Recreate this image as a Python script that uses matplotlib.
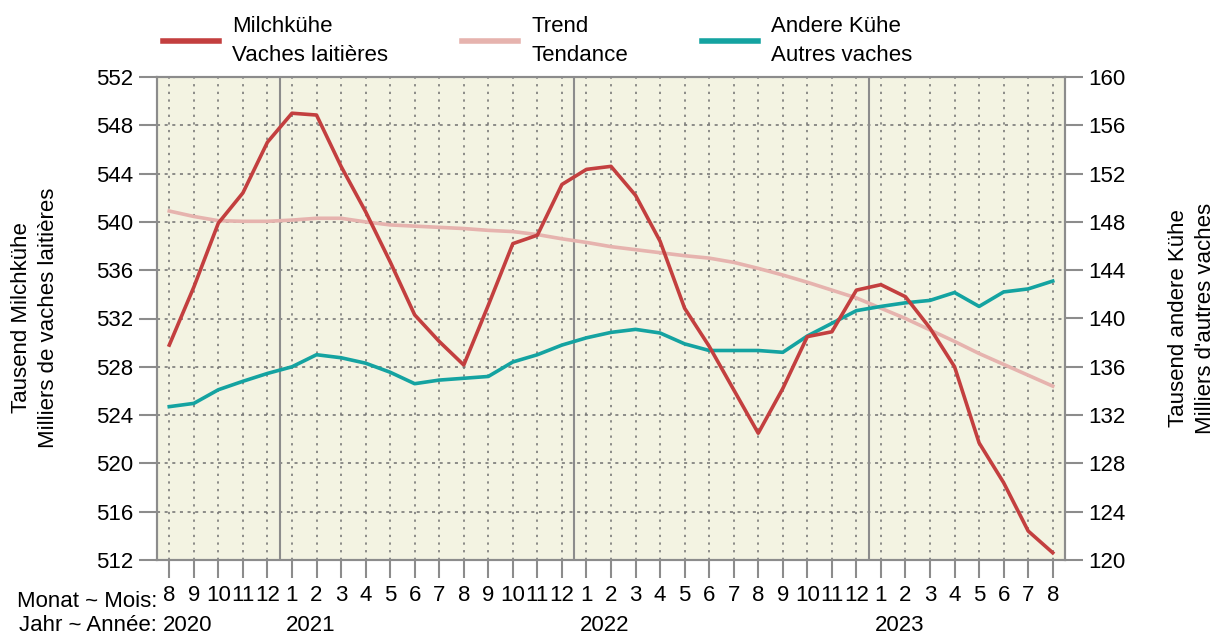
import matplotlib
matplotlib.use("Agg")
import matplotlib.pyplot as plt
from matplotlib.lines import Line2D

plt.rcParams['font.family'] = ['Liberation Sans', 'DejaVu Sans']

# monthly data, Aug 2020 .. Aug 2023
months = [8, 9, 10, 11, 12,
          1, 2, 3, 4, 5, 6, 7, 8, 9, 10, 11, 12,
          1, 2, 3, 4, 5, 6, 7, 8, 9, 10, 11, 12,
          1, 2, 3, 4, 5, 6, 7, 8]
years = ["2020", "2021", "2022", "2023"]
year_start_idx = [0, 5, 17, 29]

milchkuehe = [529.8, 534.6, 539.9, 542.4, 546.6, 549.0, 548.85, 544.6, 540.85, 536.7,
              532.3, 530.1, 528.15, 533.1, 538.2, 538.9, 543.1, 544.35, 544.6, 542.2,
              538.4, 532.85, 529.7, 526.1, 522.5, 526.2, 530.5, 530.9, 534.35, 534.8,
              533.8, 531.2, 528.0, 521.7, 518.4, 514.4, 512.6]
trend = [540.9, 540.45, 540.1, 540.05, 540.05, 540.15, 540.3, 540.3, 540.0, 539.75,
         539.65, 539.55, 539.45, 539.3, 539.2, 538.95, 538.6, 538.3, 537.95, 537.7,
         537.45, 537.2, 537.0, 536.65, 536.15, 535.6, 535.0, 534.35, 533.7, 532.85,
         532.0, 531.05, 530.1, 529.1, 528.2, 527.3, 526.4]
andere_kuehe = [132.7, 132.97, 134.1, 134.8, 135.45, 136.0, 137.0, 136.75, 136.3, 135.55,
                134.6, 134.9, 135.05, 135.2, 136.4, 137.0, 137.8, 138.4, 138.85, 139.1,
                138.8, 137.9, 137.35, 137.35, 137.35, 137.2, 138.55, 139.6, 140.65, 141.0,
                141.3, 141.5, 142.15, 141.0, 142.2, 142.45, 143.1]

c_milch = "#C33F3F"
c_trend = "#E6B3AE"
c_andere = "#14A3A1"
c_grey = "#8C8C8C"
fs = 16

x = list(range(len(months)))

fig = plt.figure(figsize=(12.16, 6.36), dpi=100)
ax = fig.add_axes([157 / 1216, 1 - 560 / 636, 908 / 1216, 483 / 636])
ax2 = ax.twinx()
ax.set_facecolor("#F3F3E2")

# grid on the left axes (below), all lines on the twin axes (above)
for xi in x:
    ax.axvline(xi, color="#707070", lw=1.1, ls=(0, (1.5, 3.5)), zorder=1)
for yv in range(516, 552, 4):
    ax.axhline(yv, color="#707070", lw=1.1, ls=(0, (2, 3)), zorder=1)
for xi in year_start_idx[1:]:
    ax.axvline(xi - 0.5, color=c_grey, lw=1.5, zorder=1.5)

ax2.plot(x, trend, color=c_trend, lw=2.6, transform=ax.transData)
ax2.plot(x, andere_kuehe, color=c_andere, lw=2.6)
ax2.plot(x, milchkuehe, color=c_milch, lw=2.6, transform=ax.transData)

ax.set_xlim(-0.5, len(months) - 0.5)
ax.set_ylim(512, 552)
ax2.set_ylim(120, 160)

for a in (ax, ax2):
    for s in a.spines.values():
        s.set_color(c_grey)
        s.set_linewidth(1.5)
    a.tick_params(length=13, width=1.5, color=c_grey, labelsize=fs, pad=4)

ax.set_yticks(range(512, 553, 4))
ax2.set_yticks(range(120, 161, 4))
ax.set_xticks(x)
ax.set_xticklabels([str(m) for m in months])
ax.tick_params(axis="x", pad=5)

fig.text(35 / 1216, 0.5, "Tausend Milchkühe\nMilliers de vaches laitières", rotation=90,
         ha="center", va="center", fontsize=fs, linespacing=1.4)
fig.text(1192 / 1216, 0.5, "Tausend andere Kühe\nMilliers d'autres vaches", rotation=90,
         ha="center", va="center", fontsize=fs, linespacing=1.35)

trans = ax.get_xaxis_transform()
ax.text(-0.5, -0.085, "Monat ~ Mois:", transform=trans, ha="right", va="center", fontsize=fs)
ax.text(-0.5, -0.136, "Jahr ~ Année:", transform=trans, ha="right", va="center", fontsize=fs)
for yr, idx in zip(years, year_start_idx):
    ax.text(idx - 0.25, -0.136, yr, transform=trans, ha="left", va="center", fontsize=fs)

handles = [Line2D([], [], color=c_milch, lw=4),
           Line2D([], [], color=c_trend, lw=4),
           Line2D([], [], color=c_andere, lw=4)]
labels = ["Milchkühe\nVaches laitières", "Trend\nTendance", "Andere Kühe\nAutres vaches"]
leg = fig.legend(handles, labels, loc="upper left", bbox_to_anchor=(143 / 1216, 1.007),
                 ncol=3, frameon=False, fontsize=fs, handlelength=2.5,
                 handletextpad=0.6, columnspacing=3.35)
for t in leg.get_texts():
    t.set_linespacing(1.55)

fig.savefig("out.png", dpi=100)
